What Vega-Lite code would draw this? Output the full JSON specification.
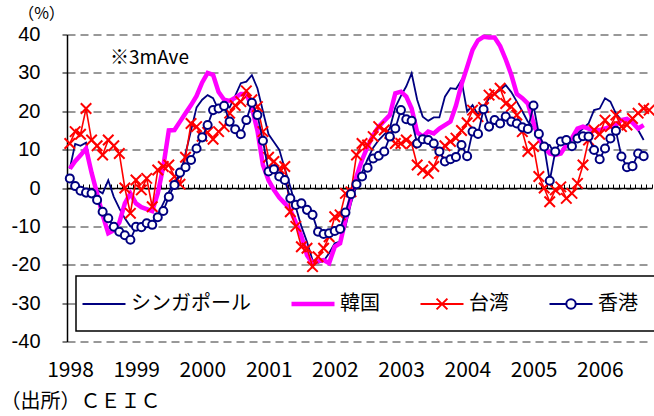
{
  "$schema": "https://vega.github.io/schema/vega-lite/v6.json",
  "width": 585,
  "height": 307,
  "autosize": "none",
  "padding": {"left": 67, "top": 34.5, "right": 2, "bottom": 74.5},
  "background": "white",
  "config": {
    "view": {"stroke": null},
    "font": "Noto Sans CJK JP",
    "legend": {"strokeWidth": 1.5}
  },
  "resolve": {"axis": {"x": "independent", "y": "independent"}},
  "data": {
    "values": [
      {"date": "1998-01", "sg": 5, "kr": 5, "tw": 11.6, "hk": 2.5},
      {"date": "1998-02", "sg": 11.5, "kr": 7, "tw": 14.7, "hk": 0.5},
      {"date": "1998-03", "sg": 11, "kr": 8.5, "tw": 14, "hk": -0.7},
      {"date": "1998-04", "sg": 11.8, "kr": 10.3, "tw": 20.7, "hk": -1.2},
      {"date": "1998-05", "sg": 4, "kr": 4, "tw": 12.5, "hk": -1.4},
      {"date": "1998-06", "sg": -0.5, "kr": -1.5, "tw": 11, "hk": -3.1},
      {"date": "1998-07", "sg": -1.4, "kr": -7, "tw": 8.6, "hk": -6.2},
      {"date": "1998-08", "sg": 2, "kr": -11.8, "tw": 12.5, "hk": -7.9},
      {"date": "1998-09", "sg": -2.3, "kr": -11, "tw": 11, "hk": -10.1},
      {"date": "1998-10", "sg": -5.3, "kr": -9, "tw": 9, "hk": -11.4},
      {"date": "1998-11", "sg": -7.9, "kr": -4, "tw": 0, "hk": -12.3},
      {"date": "1998-12", "sg": -10, "kr": -1.4, "tw": -6.6, "hk": -13.5},
      {"date": "1999-01", "sg": -10.5, "kr": -4, "tw": 2.1, "hk": -10.1},
      {"date": "1999-02", "sg": -10, "kr": -5, "tw": -0.5, "hk": -10.2},
      {"date": "1999-03", "sg": -8.5, "kr": -5.5, "tw": 2.5, "hk": -9.2},
      {"date": "1999-04", "sg": -9, "kr": -6, "tw": -4.9, "hk": -9.6},
      {"date": "1999-05", "sg": -7, "kr": -1.4, "tw": 4.7, "hk": -7.6},
      {"date": "1999-06", "sg": -4, "kr": 5.6, "tw": 5.6, "hk": -6},
      {"date": "1999-07", "sg": -1, "kr": 15, "tw": 6, "hk": -2.3},
      {"date": "1999-08", "sg": 1.5, "kr": 15.1, "tw": 3, "hk": 0.8},
      {"date": "1999-09", "sg": 3, "kr": 17.3, "tw": 1, "hk": 4},
      {"date": "1999-10", "sg": 9, "kr": 19.5, "tw": 8, "hk": 5.4},
      {"date": "1999-11", "sg": 15, "kr": 21.6, "tw": 16.8, "hk": 7.3},
      {"date": "1999-12", "sg": 21, "kr": 24, "tw": 16, "hk": 10.3},
      {"date": "2000-01", "sg": 23, "kr": 27.5, "tw": 13.5, "hk": 13.2},
      {"date": "2000-02", "sg": 24.2, "kr": 30, "tw": 14.5, "hk": 16.4},
      {"date": "2000-03", "sg": 23.4, "kr": 29.5, "tw": 12.7, "hk": 20.3},
      {"date": "2000-04", "sg": 20.3, "kr": 25, "tw": 14.7, "hk": 20.7},
      {"date": "2000-05", "sg": 22, "kr": 23, "tw": 16, "hk": 21.4},
      {"date": "2000-06", "sg": 21, "kr": 22.7, "tw": 19.5, "hk": 17.3},
      {"date": "2000-07", "sg": 24, "kr": 23.5, "tw": 21.5, "hk": 15.3},
      {"date": "2000-08", "sg": 27.3, "kr": 24.5, "tw": 22.5, "hk": 14},
      {"date": "2000-09", "sg": 27.7, "kr": 24.5, "tw": 25.3, "hk": 17.7},
      {"date": "2000-10", "sg": 29.4, "kr": 21, "tw": 23, "hk": 22.2},
      {"date": "2000-11", "sg": 26, "kr": 15, "tw": 21.2, "hk": 19},
      {"date": "2000-12", "sg": 20, "kr": 6, "tw": 14.7, "hk": 12.3},
      {"date": "2001-01", "sg": 14, "kr": 2, "tw": 8, "hk": 4.3},
      {"date": "2001-02", "sg": 12, "kr": -0.5, "tw": 6.9, "hk": 4.9},
      {"date": "2001-03", "sg": 10, "kr": -2.5, "tw": 5, "hk": 3},
      {"date": "2001-04", "sg": 5, "kr": -4, "tw": 5.6, "hk": 2.1},
      {"date": "2001-05", "sg": 0.3, "kr": -5.7, "tw": -6.2, "hk": -2.7},
      {"date": "2001-06", "sg": -5, "kr": -9, "tw": -10, "hk": -4.4},
      {"date": "2001-07", "sg": -10, "kr": -12.5, "tw": -15.3, "hk": -4},
      {"date": "2001-08", "sg": -14, "kr": -17.5, "tw": -15.7, "hk": -5.7},
      {"date": "2001-09", "sg": -18.8, "kr": -19.6, "tw": -20.5, "hk": -7},
      {"date": "2001-10", "sg": -19.5, "kr": -19, "tw": -17.9, "hk": -11.4},
      {"date": "2001-11", "sg": -19, "kr": -18.8, "tw": -15.7, "hk": -12},
      {"date": "2001-12", "sg": -17, "kr": -19.6, "tw": -12.7, "hk": -11.8},
      {"date": "2002-01", "sg": -14.4, "kr": -15.3, "tw": -7.5, "hk": -11.2},
      {"date": "2002-02", "sg": -14, "kr": -14.4, "tw": -7, "hk": -10.7},
      {"date": "2002-03", "sg": -10, "kr": -8.3, "tw": -1.4, "hk": -6.4},
      {"date": "2002-04", "sg": -4, "kr": -2.3, "tw": -1, "hk": -1.6},
      {"date": "2002-05", "sg": 0.5, "kr": 3, "tw": 8.6, "hk": 1},
      {"date": "2002-06", "sg": 4, "kr": 7.3, "tw": 11.6, "hk": 3},
      {"date": "2002-07", "sg": 7.5, "kr": 10.8, "tw": 11.2, "hk": 5.3},
      {"date": "2002-08", "sg": 10.5, "kr": 13.8, "tw": 13.4, "hk": 7.7},
      {"date": "2002-09", "sg": 12.5, "kr": 16, "tw": 16, "hk": 8.4},
      {"date": "2002-10", "sg": 14, "kr": 17.5, "tw": 15.1, "hk": 9.5},
      {"date": "2002-11", "sg": 15.5, "kr": 19, "tw": 14.2, "hk": 13.4},
      {"date": "2002-12", "sg": 21, "kr": 24.7, "tw": 11.6, "hk": 15.5},
      {"date": "2003-01", "sg": 24, "kr": 25.1, "tw": 11.6, "hk": 20.3},
      {"date": "2003-02", "sg": 26.5, "kr": 23.8, "tw": 12.5, "hk": 17.9},
      {"date": "2003-03", "sg": 29.9, "kr": 20.7, "tw": 11.6, "hk": 17.5},
      {"date": "2003-04", "sg": 23, "kr": 14.5, "tw": 6, "hk": 11.6},
      {"date": "2003-05", "sg": 18.6, "kr": 13.4, "tw": 4.7, "hk": 12.7},
      {"date": "2003-06", "sg": 17.5, "kr": 14.7, "tw": 3.8, "hk": 12.5},
      {"date": "2003-07", "sg": 18.4, "kr": 14.2, "tw": 5.6, "hk": 11.6},
      {"date": "2003-08", "sg": 18.4, "kr": 15.5, "tw": 9, "hk": 9.5},
      {"date": "2003-09", "sg": 23.8, "kr": 16.4, "tw": 11, "hk": 6.9},
      {"date": "2003-10", "sg": 26, "kr": 17.3, "tw": 12.1, "hk": 7.5},
      {"date": "2003-11", "sg": 25.8, "kr": 21.5, "tw": 13, "hk": 8.1},
      {"date": "2003-12", "sg": 28.1, "kr": 27, "tw": 15, "hk": 11.2},
      {"date": "2004-01", "sg": 19.9, "kr": 31.5, "tw": 17, "hk": 8.3},
      {"date": "2004-02", "sg": 21.6, "kr": 36, "tw": 20.3, "hk": 14.7},
      {"date": "2004-03", "sg": 19, "kr": 38.5, "tw": 18.6, "hk": 14.1},
      {"date": "2004-04", "sg": 21, "kr": 39.4, "tw": 21, "hk": 20.5},
      {"date": "2004-05", "sg": 23.4, "kr": 39.2, "tw": 24.2, "hk": 16},
      {"date": "2004-06", "sg": 24.5, "kr": 39.2, "tw": 24.5, "hk": 17.7},
      {"date": "2004-07", "sg": 25.5, "kr": 37, "tw": 26, "hk": 16.8},
      {"date": "2004-08", "sg": 26.8, "kr": 33.5, "tw": 22, "hk": 18.6},
      {"date": "2004-09", "sg": 25, "kr": 29.5, "tw": 21.2, "hk": 17.3},
      {"date": "2004-10", "sg": 22.5, "kr": 24.5, "tw": 19, "hk": 16.8},
      {"date": "2004-11", "sg": 20, "kr": 23.4, "tw": 14.7, "hk": 15.8},
      {"date": "2004-12", "sg": 17.3, "kr": 22, "tw": 9.5, "hk": 15.4},
      {"date": "2005-01", "sg": 16, "kr": 17, "tw": 10.8, "hk": 21.5},
      {"date": "2005-02", "sg": 12.5, "kr": 13, "tw": 3, "hk": 14.1},
      {"date": "2005-03", "sg": 11.5, "kr": 10.5, "tw": 0, "hk": 10.8},
      {"date": "2005-04", "sg": 11.2, "kr": 9, "tw": -3.6, "hk": 1.9},
      {"date": "2005-05", "sg": 8.5, "kr": 8.6, "tw": -0.5, "hk": 9.5},
      {"date": "2005-06", "sg": 9.5, "kr": 9, "tw": 0.3, "hk": 12.1},
      {"date": "2005-07", "sg": 11.6, "kr": 11.2, "tw": -2.7, "hk": 12.5},
      {"date": "2005-08", "sg": 13, "kr": 13, "tw": -1.4, "hk": 10.9},
      {"date": "2005-09", "sg": 14.2, "kr": 15.5, "tw": 1.2, "hk": 12.9},
      {"date": "2005-10", "sg": 15.5, "kr": 16, "tw": 6, "hk": 13.5},
      {"date": "2005-11", "sg": 16.8, "kr": 15.5, "tw": 12.5, "hk": 13.4},
      {"date": "2005-12", "sg": 20.3, "kr": 15, "tw": 15.1, "hk": 9.9},
      {"date": "2006-01", "sg": 20.7, "kr": 15.1, "tw": 14, "hk": 7.5},
      {"date": "2006-02", "sg": 23.4, "kr": 15.5, "tw": 17.7, "hk": 10.3},
      {"date": "2006-03", "sg": 22.5, "kr": 16, "tw": 16, "hk": 12.9},
      {"date": "2006-04", "sg": 19.4, "kr": 16.4, "tw": 19, "hk": 14.9},
      {"date": "2006-05", "sg": 17.7, "kr": 17.7, "tw": 16, "hk": 8.2},
      {"date": "2006-06", "sg": 17.7, "kr": 18, "tw": 16.4, "hk": 5.4},
      {"date": "2006-07", "sg": 17.7, "kr": 17, "tw": 18.1, "hk": 5.7},
      {"date": "2006-08", "sg": 15.1, "kr": 15.5, "tw": 19.5, "hk": 9},
      {"date": "2006-09", "sg": 12.5, "kr": 16.4, "tw": 20.7, "hk": 8.3},
      {"date": "2006-10", "sg": null, "kr": null, "tw": 20.3, "hk": null}
    ]
  },
  "layer": [
    {
      "mark": {"type": "line", "color": "#000080", "strokeWidth": 1.8},
      "encoding": {
        "x": {
          "field": "date", "type": "temporal", "timeUnit": "utcyearmonth", "bandPosition": 0.5,
          "scale": {"domain": [{"year": 1998, "month": 1, "date": 1, "utc": true}, {"year": 2006, "month": 11, "date": 1, "utc": true}], "nice": false},
          "axis": {
            "orient": "bottom",
            "tickCount": {"interval": "year", "step": 1},
            "labelExpr": "utcFormat(datum.value, '%Y')",
            "labelOffset": 3,
            "ticks": false,
            "domain": false,
            "grid": false,
            "labelPadding": 18,
            "labelFont": "Noto Sans CJK JP",
            "labelFontSize": 21,
            "labelColor": "black",
            "labelFlush": false,
            "labelOverlap": false,
            "labelBound": false,
            "title": "（出所）ＣＥＩＣ",
            "titleX": -67,
            "titleY": 60,
            "titleAnchor": "start",
            "titleAlign": "left",
            "titleBaseline": "middle",
            "titleFont": "Noto Sans CJK JP",
            "titleFontSize": 20,
            "titleFontWeight": "normal",
            "titleColor": "black"
          }
        },
        "y": {
          "field": "sg", "type": "quantitative",
          "scale": {"domain": [-40, 40], "nice": false, "zero": false},
          "axis": {
            "orient": "left",
            "values": [-40, -30, -20, -10, 0, 10, 20, 30, 40],
            "labelExpr": "datum.value",
            "grid": true,
            "gridDash": [8, 5],
            "gridColor": "#333333",
            "gridWidth": 1,
            "domainColor": "black",
            "domainWidth": 1.5,
            "tickColor": "black",
            "tickSize": 5,
            "labelPadding": 22,
            "labelFont": "Liberation Sans",
            "labelFontSize": 20,
            "labelColor": "black",
            "labelBaseline": "middle",
            "title": "（%）",
            "titleAngle": 0,
            "titleX": -26,
            "titleY": -21.5,
            "titleAlign": "center",
            "titleBaseline": "middle",
            "titleFont": "Noto Sans CJK JP",
            "titleFontSize": 16,
            "titleFontWeight": "normal",
            "titleColor": "black"
          }
        }
      }
    },
    {
      "mark": {"type": "line", "color": "#FF00FF", "strokeWidth": 4.5},
      "encoding": {
        "x": {
          "field": "date", "type": "temporal", "timeUnit": "utcyearmonth", "bandPosition": 0.5,
          "scale": {"domain": [{"year": 1998, "month": 1, "date": 1, "utc": true}, {"year": 2006, "month": 11, "date": 1, "utc": true}], "nice": false},
          "axis": {
            "orient": "top",
            "offset": -153.5,
            "tickCount": {"interval": "month", "step": 1},
            "labels": false,
            "ticks": true,
            "tickSize": 4,
            "tickColor": "black",
            "tickWidth": 1,
            "domain": true,
            "domainColor": "black",
            "domainWidth": 1.5,
            "grid": false,
            "title": null
          }
        },
        "y": {"field": "kr", "type": "quantitative", "scale": {"domain": [-40, 40], "nice": false, "zero": false}, "axis": null}
      }
    },
    {
      "mark": {
        "type": "line", "color": "#FF0000", "strokeWidth": 1.6,
        "point": {"shape": "M-1,-1L1,1M-1,1L1,-1", "filled": false, "size": 110, "color": "#FF0000", "strokeWidth": 2}
      },
      "encoding": {
        "x": {"field": "date", "type": "temporal", "timeUnit": "utcyearmonth", "bandPosition": 0.5, "axis": null},
        "y": {"field": "tw", "type": "quantitative", "scale": {"domain": [-40, 40], "nice": false, "zero": false}, "axis": null}
      }
    },
    {
      "mark": {
        "type": "line", "color": "#000080", "strokeWidth": 1.8,
        "point": {"shape": "circle", "filled": true, "fill": "white", "stroke": "#000080", "strokeWidth": 2, "size": 65, "opacity": 1}
      },
      "encoding": {
        "x": {"field": "date", "type": "temporal", "timeUnit": "utcyearmonth", "bandPosition": 0.5, "axis": null},
        "y": {"field": "hk", "type": "quantitative", "scale": {"domain": [-40, 40], "nice": false, "zero": false}, "axis": null}
      }
    },
    {
      "data": {"values": [{"note": "※3mAve"}]},
      "mark": {"type": "text", "align": "center", "baseline": "middle", "font": "Noto Sans CJK JP", "fontSize": 19, "color": "black"},
      "encoding": {
        "x": {"datum": {"year": 1999, "month": 4, "date": 1, "utc": true}, "type": "temporal", "axis": null},
        "y": {"datum": 34, "type": "quantitative", "axis": null},
        "text": {"field": "note"}
      }
    },
    {
      "transform": [{"fold": ["sg", "kr", "tw", "hk"], "as": ["series", "value"]}],
      "mark": {"type": "point", "opacity": 0, "filled": false},
      "encoding": {
        "x": {"field": "date", "type": "temporal", "timeUnit": "utcyearmonth", "bandPosition": 0.5, "axis": null},
        "y": {"field": "value", "type": "quantitative", "scale": {"domain": [-40, 40], "nice": false, "zero": false}, "axis": null},
        "color": {
          "field": "series", "type": "nominal",
          "scale": {"domain": ["sg", "kr", "tw", "hk"], "range": ["#000080", "#FF00FF", "#FF0000", "#000080"]},
          "legend": {
            "title": null,
            "orient": "none",
            "legendX": 9,
            "legendY": 241.5,
            "direction": "horizontal",
            "columns": 4,
            "columnPadding": 36,
            "padding": 17,
            "strokeColor": "black",
            "fillColor": "white",
            "symbolSize": 400,
            "symbolStrokeWidth": 2,
            "symbolFillColor": "white",
            "symbolOpacity": 1,
            "labelFont": "Noto Sans CJK JP",
            "labelFontSize": 20,
            "labelColor": "black",
            "labelOffset": 16,
            "labelLimit": 300,
            "labelExpr": "datum.label == 'sg' ? 'シンガポール' : datum.label == 'kr' ? '韓国' : datum.label == 'tw' ? '台湾' : '香港'"
          }
        },
        "shape": {
          "field": "series", "type": "nominal",
          "scale": {
            "domain": ["sg", "kr", "tw", "hk"],
            "range": [
              "M-2.15,0H2.15",
              "M-2.15,-0.13H2.15M-2.15,0H2.15M-2.15,0.13H2.15",
              "M-2.15,0H2.15M-0.54,-0.54L0.54,0.54M-0.54,0.54L0.54,-0.54",
              "M-2.15,0H-0.47M0.47,0H2.15M0.47,0A0.47,0.47 0 1,1 -0.47,0A0.47,0.47 0 1,1 0.47,0"
            ]
          }
        }
      }
    }
  ]
}
